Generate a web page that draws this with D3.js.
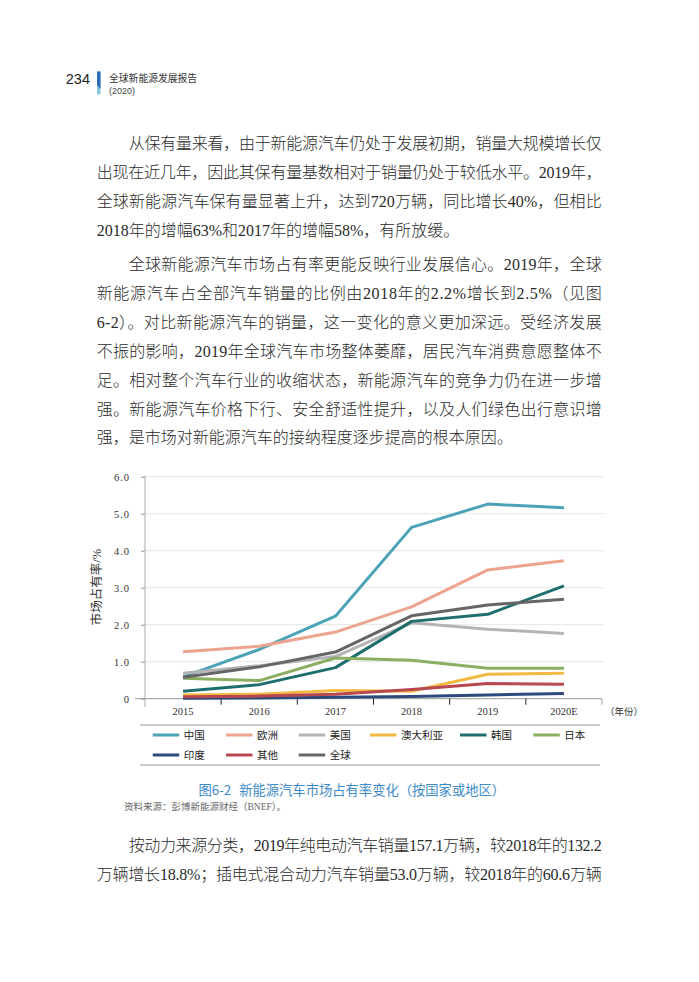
<!DOCTYPE html>
<html>
<head>
<meta charset="utf-8">
<script src="https://cdn.jsdelivr.net/npm/d3@7"></script>
<style>
  body { margin: 0; background: #fff; }
  svg { display: block; }
  .body-text { font-family: 'Liberation Serif', 'Noto Sans CJK SC', serif; font-size: 16px; fill: #2a2a2a; font-weight: 300; }
  .axis text { font-family: 'Liberation Serif', serif; font-size: 10.5px; fill: #333; }
</style>
</head>
<body>
<svg id="page" width="699" height="982"></svg>
<script>
// chart data
const years = ["2015", "2016", "2017", "2018", "2019", "2020E"];
const names = ["中国", "欧洲", "美国", "澳大利亚", "韩国", "日本", "印度", "其他", "全球"];
const colors = ["#4ca3b8", "#eda38e", "#b4b4b6", "#f4b942", "#1e6e6e", "#8bae62", "#2c4a7c", "#b8484f", "#666666"];
const china = [0.59, 1.33, 2.23, 4.63, 5.26, 5.16];
const europe = [1.27, 1.42, 1.80, 2.48, 3.48, 3.73];
const usa = [0.69, 0.89, 1.14, 2.05, 1.88, 1.76];
const australia = [0.10, 0.12, 0.22, 0.20, 0.66, 0.69];
const korea = [0.20, 0.38, 0.84, 2.09, 2.28, 3.05];
const japan = [0.55, 0.49, 1.10, 1.04, 0.82, 0.82];
const india = [0.01, 0.02, 0.04, 0.06, 0.10, 0.14];
const others = [0.05, 0.07, 0.12, 0.25, 0.41, 0.39];
const world = [0.58, 0.86, 1.26, 2.24, 2.53, 2.69];
const yTicks = [0, 1, 2, 3, 4, 5, 6];

// page text
const para1 = [
  "从保有量来看，由于新能源汽车仍处于发展初期，销量大规模增长仅",
  "出现在近几年，因此其保有量基数相对于销量仍处于较低水平。2019年，",
  "全球新能源汽车保有量显著上升，达到720万辆，同比增长40%，但相比",
  "2018年的增幅63%和2017年的增幅58%，有所放缓。"
];
const para2 = [
  "全球新能源汽车市场占有率更能反映行业发展信心。2019年，全球",
  "新能源汽车占全部汽车销量的比例由2018年的2.2%增长到2.5%（见图",
  "6-2）。对比新能源汽车的销量，这一变化的意义更加深远。受经济发展",
  "不振的影响，2019年全球汽车市场整体萎靡，居民汽车消费意愿整体不",
  "足。相对整个汽车行业的收缩状态，新能源汽车的竞争力仍在进一步增",
  "强。新能源汽车价格下行、安全舒适性提升，以及人们绿色出行意识增",
  "强，是市场对新能源汽车的接纳程度逐步提高的根本原因。"
];
const para3 = [
  "按动力来源分类，2019年纯电动汽车销量157.1万辆，较2018年的132.2",
  "万辆增长18.8%；插电式混合动力汽车销量53.0万辆，较2018年的60.6万辆"
];

const svg = d3.select("#page");
const cjk = "'Noto Sans CJK SC', sans-serif";

// header
svg.append("text").attr("x", 90).attr("y", 84).attr("text-anchor", "end")
  .attr("font-family", "'Liberation Sans', Arial, sans-serif").attr("font-size", 14.5)
  .attr("fill", "#222").text("234");
svg.append("rect").attr("x", 97).attr("y", 71.5).attr("width", 3.5).attr("height", 23).attr("fill", "#8cc4de");
svg.append("polygon").attr("points", "97,71.5 100.5,71.5 100.5,89 97,85").attr("fill", "#2a6db5");
svg.append("text").attr("x", 109).attr("y", 81.5).attr("font-family", cjk).attr("font-size", 9.8)
  .attr("fill", "#333").text("全球新能源发展报告");
svg.append("text").attr("x", 109).attr("y", 93.5).attr("font-family", "'Liberation Sans', Arial, sans-serif")
  .attr("font-size", 9).attr("fill", "#444").text("(2020)");

// body paragraphs, justified line by line
const left = 96.7, right = 601.7, fs = 16;
function paragraph(lines, y0, step, lastFull) {
  lines.forEach((s, i) => {
    const x0 = i === 0 ? left + 2 * fs : left;
    const t = svg.append("text").attr("class", "body-text")
      .attr("x", x0).attr("y", y0 + i * step + 6).text(s);
    if (i < lines.length - 1 || lastFull) {
      t.attr("textLength", right - x0).attr("lengthAdjust", "spacing");
    }
  });
}
paragraph(para1, 142.7, 29, false);
paragraph(para2, 264, 28.9, false);
paragraph(para3, 845, 28.5, true);

// chart
const x = d3.scaleBand().domain(years).range([145, 602]);
const y = d3.scaleLinear().domain([0, 6]).range([698.7, 476.7]);

svg.append("g").selectAll("line").data(yTicks.slice(1)).join("line")
  .attr("x1", 145).attr("x2", 604)
  .attr("y1", d => y(d)).attr("y2", d => y(d))
  .attr("stroke", "#e6e6e6").attr("stroke-width", 1);

const yAxis = svg.append("g").attr("class", "axis").attr("transform", "translate(145,0)")
  .call(d3.axisLeft(y).tickValues(yTicks).tickSize(4).tickPadding(11)
    .tickFormat(d => d === 0 ? "0" : d.toFixed(1)));
yAxis.select(".domain").remove();
yAxis.selectAll("line").attr("stroke", "#999");
yAxis.selectAll("text").attr("letter-spacing", "1px");
svg.append("line").attr("x1", 145).attr("x2", 145).attr("y1", 476).attr("y2", 707)
  .attr("stroke", "#aaa");

const xAxis = svg.append("g").attr("class", "axis").attr("transform", `translate(0,${y(0)})`)
  .call(d3.axisBottom(x).tickSize(0).tickPadding(9));
xAxis.select(".domain").remove();
svg.append("line").attr("x1", 135).attr("x2", 602).attr("y1", y(0)).attr("y2", y(0))
  .attr("stroke", "#999");
svg.append("g").selectAll("line").data(years).join("line")
  .attr("x1", d => x(d) + x.bandwidth()).attr("x2", d => x(d) + x.bandwidth())
  .attr("y1", y(0)).attr("y2", y(0) + 6)
  .attr("stroke", d => d === "2020E" ? "#999" : "#222");
svg.append("text").attr("x", 605).attr("y", 714.5).attr("font-family", cjk)
  .attr("font-size", 9.5).attr("fill", "#333").text("（年份）");

svg.append("text").attr("transform", "translate(101,587) rotate(-90)")
  .attr("text-anchor", "middle").attr("font-family", "'Liberation Serif', " + cjk)
  .attr("font-size", 12.5).attr("fill", "#333").text("市场占有率/%");

const allSeries = [china, europe, usa, australia, korea, japan, india, others, world];
const line = d3.line().x((d, i) => x(years[i]) + x.bandwidth() / 2).y(d => y(d));
svg.append("g").selectAll("path").data(allSeries).join("path")
  .attr("d", line).attr("fill", "none")
  .attr("stroke", (d, i) => colors[i]).attr("stroke-width", 3)
  .attr("stroke-linejoin", "round");

// legend
svg.append("line").attr("x1", 140).attr("x2", 600).attr("y1", 725).attr("y2", 725).attr("stroke", "#999");
svg.append("line").attr("x1", 140).attr("x2", 600).attr("y1", 765).attr("y2", 765).attr("stroke", "#999");
const legX = [152.7, 226, 298.7, 370, 460, 533.3];
const leg = svg.append("g").selectAll("g").data(names).join("g")
  .attr("transform", (d, i) => `translate(${legX[i % 6]},${i < 6 ? 735 : 755})`);
leg.append("line").attr("x1", 0).attr("x2", 26.5).attr("stroke", (d, i) => colors[i]).attr("stroke-width", 3);
leg.append("text").attr("x", 31).attr("y", 4).attr("font-family", cjk).attr("font-size", 10.5)
  .attr("fill", "#222").text(d => d);

// caption and source
const cap = svg.append("text").attr("y", 795)
  .attr("font-family", cjk).attr("font-size", 13.3).attr("fill", "#3c8ac8");
cap.append("tspan").attr("x", 198.5).text("图6-2");
cap.append("tspan").attr("dx", 8).text("新能源汽车市场占有率变化（按国家或地区）");
svg.append("text").attr("x", 124).attr("y", 809.5).attr("font-family", "'Liberation Serif', " + cjk)
  .attr("font-size", 9.5).attr("fill", "#666").text("资料来源：彭博新能源财经（BNEF）。");
</script>
</body>
</html>
